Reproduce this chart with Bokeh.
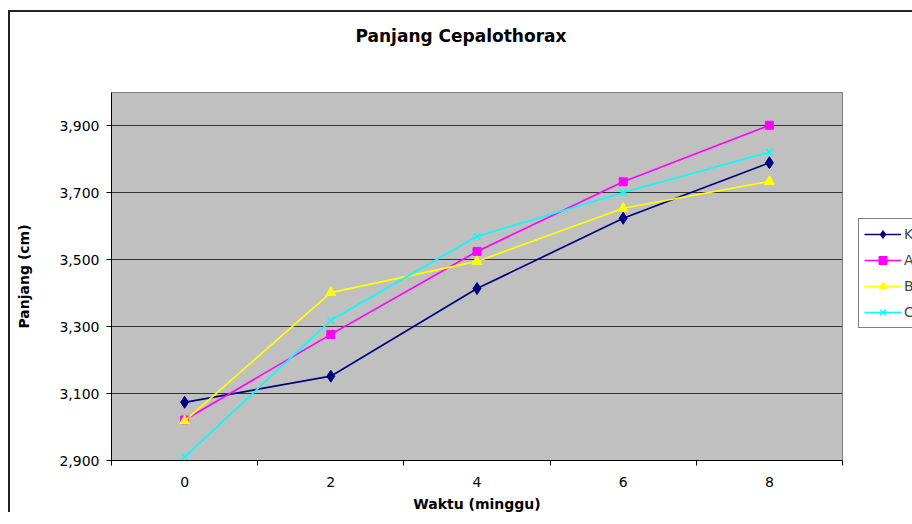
from bokeh.plotting import figure
from bokeh.layouts import column, row
from bokeh.models import (FixedTicker, NumeralTickFormatter, Legend, LegendItem, Range1d,
                          Spacer, Title)
from bokeh.embed import file_html
from bokeh.resources import INLINE

weeks = [0, 2, 4, 6, 8]
week_bounds = [-1, 1, 3, 5, 7, 9]
K = [3074, 3152, 3414, 3624, 3790]
A = [3021, 3277, 3525, 3733, 3902]
B = [3018, 3402, 3495, 3654, 3734]
C = [2910, 3319, 3570, 3701, 3822]
y_ticks = [2900, 3100, 3300, 3500, 3700, 3900]

FONT = "DejaVu Sans"

p = figure(title=None, frame_width=729, frame_height=366,
           output_backend="svg", toolbar_location=None,
           x_range=Range1d(-1, 9), y_range=Range1d(2900, 4000),
           min_border_left=101, min_border_right=64, min_border_top=80, min_border_bottom=50,
           background_fill_color="#C0C0C0", border_fill_color="white")
p.styles = {"border-top": "2px solid #222222", "border-left": "2px solid #222222"}

# spacer title (closest to frame) then the real title
p.add_layout(Title(text=" ", text_font_size="26px"), "above")
p.add_layout(Title(text="Panjang Cepalothorax", align="left", offset=244,
                   text_font=FONT, text_font_size="17px", text_font_style="bold",
                   text_color="black"), "above")

p.outline_line_color = "#808080"
p.outline_line_width = 1

# axes
p.xaxis.ticker = FixedTicker(ticks=weeks, minor_ticks=week_bounds)
p.xaxis.major_tick_line_color = None
p.xaxis.minor_tick_line_color = "black"
p.xaxis.minor_tick_out = 5
p.xaxis.minor_tick_in = 0
p.yaxis.ticker = FixedTicker(ticks=y_ticks)
p.yaxis.formatter = NumeralTickFormatter(format="0,0")
p.yaxis.minor_tick_line_color = None
p.yaxis.major_tick_out = 5
p.yaxis.major_tick_in = 0
for ax in (p.xaxis, p.yaxis):
    ax.axis_line_color = "black"
    ax.major_label_text_font = FONT
    ax.major_label_text_font_size = "14px"
    ax.major_label_text_color = "black"
    ax.axis_label_text_font = FONT
    ax.axis_label_text_font_size = "14px"
    ax.axis_label_text_font_style = "bold"
    ax.axis_label_text_color = "black"
p.xaxis.axis_label = "Waktu (minggu)"
p.yaxis.axis_label = "Panjang (cm)"
p.xaxis.major_label_standoff = 10
p.xaxis.axis_label_standoff = 6
p.yaxis.major_label_standoff = 7
p.yaxis.axis_label_standoff = 24

p.xgrid.grid_line_color = None
p.ygrid.grid_line_color = "#333333"
p.ygrid.grid_line_width = 1

series = [
    ("K", K, "#000080", "diamond", 12),
    ("A", A, "#FF00FF", "square", 8),
    ("B", B, "#FFFF00", "triangle", 10),
    ("C", C, "#00FFFF", "x", 9),
]
items = []
for name, vals, col, mk, sz in series:
    l = p.line(weeks, vals, line_color=col, line_width=1.7)
    m = p.scatter(weeks, vals, marker=mk, size=sz, fill_color=col, line_color=col,
                  line_width=1.5 if mk == "x" else 1)
    items.append(LegendItem(label=name, renderers=[l, m]))

legend = Legend(items=items, location=(16, 132), glyph_width=37, glyph_height=20,
                label_height=20, label_width=10, spacing=6, padding=5, margin=0,
                label_standoff=3,
                label_text_font=FONT, label_text_font_size="14px",
                border_line_color="black", border_line_width=1,
                background_fill_color="white", background_fill_alpha=1)
p.add_layout(legend, "right")

layout = column(Spacer(height=10), row(Spacer(width=8), p))

open("out.html", "w").write(file_html(layout, INLINE))
